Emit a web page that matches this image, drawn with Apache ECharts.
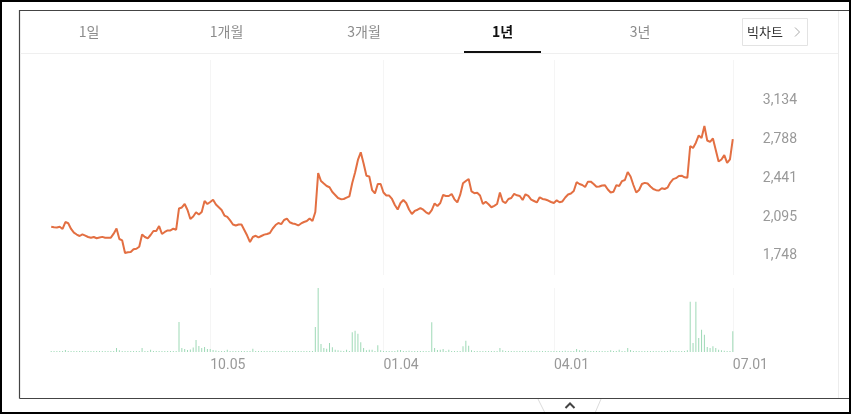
<!DOCTYPE html>
<html>
<head>
<meta charset="utf-8">
<script src="https://cdn.jsdelivr.net/npm/echarts@6/dist/echarts.min.js"></script>
<style>
html,body{margin:0;padding:0;background:#fff;}
#chart{width:851px;height:414px;}
</style>
</head>
<body>
<div id="chart"></div>
<script>
// ---- data ----
const startDate = '2020-07-13';
const endDate = '2021-07-01';
const holidays = ['2020-08-17','2020-09-30','2020-10-01','2020-10-02','2020-10-09','2020-12-25','2020-12-31','2021-01-01','2021-02-11','2021-02-12','2021-03-01','2021-05-05','2021-05-19'];
const xTickLabels = ['10.05', '01.04', '04.01', '07.01'];
const yTicks = [1748, 2094.5, 2441, 2787.5, 3134];
const tabs = ['1일', '1개월', '3개월', '1년', '3년'];
const activeTab = '1년';

const prices = [
1992,1987,1985,1991,1972,2034,2023,1972,1939,1922,
1909,1924,1913,1900,1893,1900,1889,1896,1901,1894,
1894,1894,1930,1976,1882,1869,1757,1763,1766,1791,
1795,1813,1922,1900,1888,1918,1954,1954,1998,1927,
1945,1959,1959,1974,1965,2155,2164,2195,2141,2061,
2083,2121,2101,2124,2222,2195,2213,2234,2191,2166,
2141,2092,2079,2048,2012,2003,2012,2012,1963,1913,
1855,1900,1911,1896,1909,1921,1927,1936,1976,2007,
2025,2015,2052,2065,2032,2021,2016,2003,2021,2034,
2043,2066,2043,2124,2472,2401,2378,2356,2345,2302,
2276,2249,2238,2240,2252,2264,2383,2477,2589,2657,
2557,2447,2441,2320,2290,2374,2374,2298,2271,2270,
2240,2186,2146,2204,2231,2204,2146,2106,2133,2144,
2159,2144,2121,2106,2141,2200,2177,2204,2276,2267,
2267,2285,2237,2209,2276,2380,2401,2419,2307,2292,
2296,2271,2195,2215,2193,2166,2178,2195,2298,2218,
2204,2240,2249,2285,2273,2267,2231,2282,2267,2235,
2222,2209,2255,2240,2235,2226,2213,2204,2228,2211,
2218,2253,2280,2289,2311,2390,2374,2365,2347,2395,
2395,2374,2349,2352,2361,2362,2325,2298,2305,2364,
2356,2400,2410,2481,2441,2365,2298,2320,2374,2384,
2378,2352,2329,2319,2316,2336,2329,2341,2387,2417,
2426,2446,2448,2434,2430,2714,2696,2743,2808,2785,
2893,2763,2750,2781,2678,2575,2593,2632,2562,2595,
2776
];

const volumes = [
100,100,100,100,100,200,100,100,100,100,
100,100,100,100,100,100,100,100,100,100,
100,100,100,400,170,100,100,100,100,100,
100,100,400,100,100,230,100,100,100,100,
100,100,100,100,100,3000,400,300,200,250,
450,1200,600,400,500,300,300,200,150,100,
100,100,230,100,100,100,100,100,100,100,
100,330,100,100,100,100,100,100,100,100,
100,100,100,100,100,100,100,100,100,100,
100,100,100,2500,6400,800,400,330,900,470,
230,170,130,100,230,100,1970,2130,1830,970,
400,170,230,230,100,670,170,100,100,100,
100,100,170,200,100,100,130,100,100,100,
100,100,100,100,2970,400,200,230,300,100,
230,100,100,100,100,570,1130,630,170,100,
100,100,100,100,100,100,100,100,400,170,
100,100,100,100,100,100,100,100,100,130,
100,100,100,100,100,100,100,100,100,100,
100,130,100,100,100,300,170,100,200,100,
100,100,100,100,100,100,100,170,100,100,
230,100,100,400,200,100,100,100,100,100,
100,100,100,100,100,100,100,100,170,100,
100,100,100,100,170,5030,900,5030,1400,2230,
1730,500,400,570,400,230,170,130,100,100,
2070
];

// trading-day categories
const categories = [];
(function(){
  const hol = new Set(holidays);
  let d = new Date(startDate + 'T00:00:00Z');
  const end = new Date(endDate + 'T00:00:00Z');
  while (d <= end) {
    const wd = d.getUTCDay();
    const iso = d.toISOString().slice(0,10);
    if (wd !== 0 && wd !== 6 && !hol.has(iso)) {
      categories.push(iso.slice(5,7) + '.' + iso.slice(8,10));
    }
    d = new Date(d.getTime() + 86400000);
  }
})();

const chart = echarts.init(document.getElementById('chart'), null, {renderer:'canvas'});
const showTick = (idx, val) => xTickLabels.indexOf(val) >= 0;
const gridL = 51.2, gridR = 851 - 732.8;

const tabCenters = [89, 226.5, 364, 502.5, 640];
const graphics = [];
// outer black border
graphics.push({type:'rect', shape:{x:1,y:1,width:849,height:412}, style:{fill:null, stroke:'#000', lineWidth:2}, z:1, silent:true});
// inner frame
graphics.push({type:'line', shape:{x1:19.5,y1:10.5,x2:849,y2:10.5}, style:{stroke:'#444', lineWidth:1.2}, silent:true});
graphics.push({type:'line', shape:{x1:19.5,y1:10,x2:19.5,y2:398.5}, style:{stroke:'#444', lineWidth:1.2}, silent:true});
graphics.push({type:'line', shape:{x1:19.5,y1:398.5,x2:849,y2:398.5}, style:{stroke:'#444', lineWidth:1.2}, silent:true});
graphics.push({type:'line', shape:{x1:838.5,y1:11,x2:838.5,y2:398}, style:{stroke:'#ececec', lineWidth:1}, silent:true});
// tab separator
graphics.push({type:'line', shape:{x1:20,y1:53.5,x2:838,y2:53.5}, style:{stroke:'#efefef', lineWidth:1}, silent:true});
tabs.forEach((t, i) => {
  const active = t === activeTab;
  graphics.push({type:'text', x:tabCenters[i], y:32, style:{text:t, fill: active ? '#111' : '#8c8c8c', font:(active?'bold ':'') + '14px "Noto Sans CJK KR", sans-serif', align:'center', verticalAlign:'middle'}, silent:true});
  if (active) {
    graphics.push({type:'rect', shape:{x:464,y:51,width:77,height:2}, style:{fill:'#111'}, silent:true});
  }
});
// big chart button
graphics.push({type:'rect', shape:{x:742.5,y:18.5,width:65,height:27}, style:{fill:'#fff', stroke:'#e3e3e3', lineWidth:1}, silent:true});
graphics.push({type:'text', x:747, y:32, style:{text:'빅차트', fill:'#333', font:'13px "Noto Sans CJK KR", sans-serif', align:'left', verticalAlign:'middle'}, silent:true});
graphics.push({type:'polyline', shape:{points:[[795,27.5],[799.5,32],[795,36.5]]}, style:{stroke:'#aaa', lineWidth:1, fill:null}, silent:true});
// bottom toggle
graphics.push({type:'line', shape:{x1:538,y1:399,x2:545,y2:413}, style:{stroke:'#dcdcdc', lineWidth:1}, silent:true});
graphics.push({type:'line', shape:{x1:601,y1:399,x2:595,y2:413}, style:{stroke:'#dcdcdc', lineWidth:1}, silent:true});
graphics.push({type:'polyline', shape:{points:[[565.5,408],[570,403.5],[574.5,408]]}, style:{stroke:'#444', lineWidth:2, fill:null}, silent:true});

chart.setOption({
  animation: false,
  backgroundColor: '#fff',
  graphic: graphics,
  grid: [
    {left: gridL, right: gridR, top: 60, height: 215},
    {left: gridL, right: gridR, top: 288, height: 64}
  ],
  xAxis: [
    {type:'category', gridIndex:0, data:categories, boundaryGap:false,
     axisLine:{show:false}, axisTick:{show:false}, axisLabel:{show:false},
     splitLine:{show:true, interval:showTick, lineStyle:{color:'#f5f5f5', width:1}}},
    {type:'category', gridIndex:1, data:categories, boundaryGap:false,
     axisLine:{show:false}, axisTick:{show:false},
     axisLabel:{show:true, interval:showTick, align:'left', margin:6, color:'#999', fontSize:14, fontFamily:'Roboto'},
     splitLine:{show:true, interval:showTick, lineStyle:{color:'#f5f5f5', width:1}}}
  ],
  yAxis: [
    {type:'value', gridIndex:0, position:'right', min:1560.2, max:3482.7,
     splitLine:{show:false}, axisLine:{show:false}, axisTick:{show:false},
     axisLabel:{show:true, customValues:yTicks, margin:30, align:'left',
       formatter:(v) => '{a|' + Math.round(v).toLocaleString('en-US') + '}',
       rich:{a:{padding:[4,0,0,0], color:'#999', fontSize:14, fontFamily:'Roboto'}}}},
    {type:'value', gridIndex:1, min:0, max:6400, show:false, splitLine:{show:false}}
  ],
  series: [
    {type:'line', xAxisIndex:0, yAxisIndex:0, data:prices, showSymbol:false, symbol:'none',
     lineStyle:{color:'#e36f42', width:2}, itemStyle:{color:'#e36f42'}, clip:false},
    {type:'bar', xAxisIndex:1, yAxisIndex:1, data:volumes, barWidth:1,
     itemStyle:{color:'#9ed9b6'}}
  ]
});
</script>
</body>
</html>
